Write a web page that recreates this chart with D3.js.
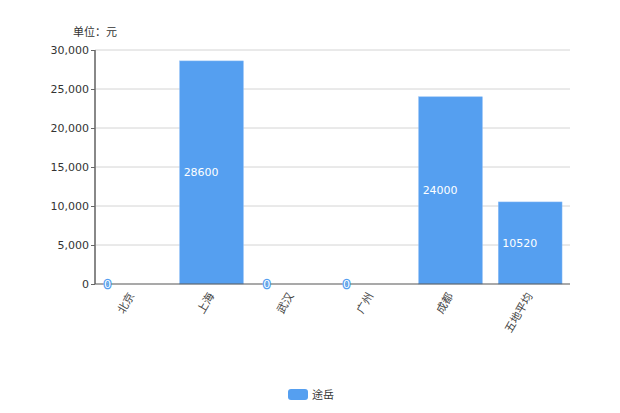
<!DOCTYPE html>
<html><head><meta charset="utf-8">
<script src="https://cdn.jsdelivr.net/npm/d3@7"></script>
<style>body{margin:0;background:#fff;} text{font-family:"DejaVu Sans","Noto Sans CJK SC",sans-serif;}</style>
</head><body>
<svg id="c" width="620" height="413"></svg>
<script>
const categories = ["北京","上海","武汉","广州","成都","五地平均"];
const values = [0,28600,0,0,24000,10520];
const seriesName = "途岳";
const yTicks = [0,5000,10000,15000,20000,25000,30000];
const unitLabel = "单位：元";

const svg = d3.select("#c");
const m = {l:95, r:570, t:50, b:284};
const x = d3.scaleBand().domain(categories).range([92, m.r]).paddingInner(0.2).paddingOuter(0.1);
const y = d3.scaleLinear().domain([0,30000]).range([m.b, m.t]);
const color = "#559ff0";

// grid
svg.append("g").selectAll("line").data(yTicks.slice(1)).join("line")
  .attr("x1", m.l).attr("x2", m.r).attr("y1", d=>y(d)).attr("y2", d=>y(d))
  .attr("stroke", "#d4d4d4").attr("stroke-width", 1);

// bars
svg.append("g").selectAll("rect").data(values).join("rect")
  .attr("x", (d,i)=>x(categories[i])).attr("width", x.bandwidth())
  .attr("y", d=>y(d)).attr("height", d=>m.b - y(d))
  .attr("fill", color).attr("stroke", "#8cbcf5").attr("stroke-width", 0.5);

// y axis
const ya = svg.append("g").attr("transform", `translate(${m.l},0)`)
  .call(d3.axisLeft(y).tickValues(yTicks).tickSize(4).tickFormat(d3.format(",")));
ya.select(".domain").attr("stroke", "#888").attr("stroke-width", 2).attr("d", `M0,${m.t}V${m.b}`);
ya.selectAll(".tick line").attr("stroke", "#666");
ya.selectAll(".tick text").attr("fill", "#333").attr("font-size", 11).attr("x", -6);

// x axis
const xa = svg.append("g").attr("transform", `translate(0,${m.b})`)
  .call(d3.axisBottom(x).tickSize(0));
xa.select(".domain").attr("stroke", "#555").attr("stroke-width", 1.2).attr("d", `M${m.l},0H${m.r}`);
xa.selectAll(".tick text").attr("fill", "#444").attr("font-size", 11)
  .attr("text-anchor", "end").attr("dy", "0.35em")
  .attr("transform", "translate(-3,8) rotate(-60)");

// value labels
svg.append("g").selectAll("text").data(values).join("text")
  .attr("x", (d,i)=>x(categories[i]) + 4)
  .attr("y", d=>(y(d)+m.b)/2).attr("dy", "0.35em")
  .attr("font-size", 11).attr("fill", "#fff")
  .attr("stroke", d=>d===0?color:"none").attr("stroke-width", 2.5).attr("paint-order","stroke")
  .text(d=>d);

// unit
svg.append("text").attr("x", 73).attr("y", 36).attr("font-size", 11).attr("fill", "#333")
  .style("font-family", '"Noto Sans CJK SC",sans-serif').text(unitLabel);

// legend
const lg = svg.append("g").attr("transform", "translate(288,389)");
lg.append("rect").attr("width", 20).attr("height", 11).attr("rx", 3).attr("fill", color);
lg.append("text").attr("x", 24).attr("y", 6).attr("dy","0.35em").attr("font-size", 11).attr("fill", "#333").text(seriesName);
</script>
</body></html>
